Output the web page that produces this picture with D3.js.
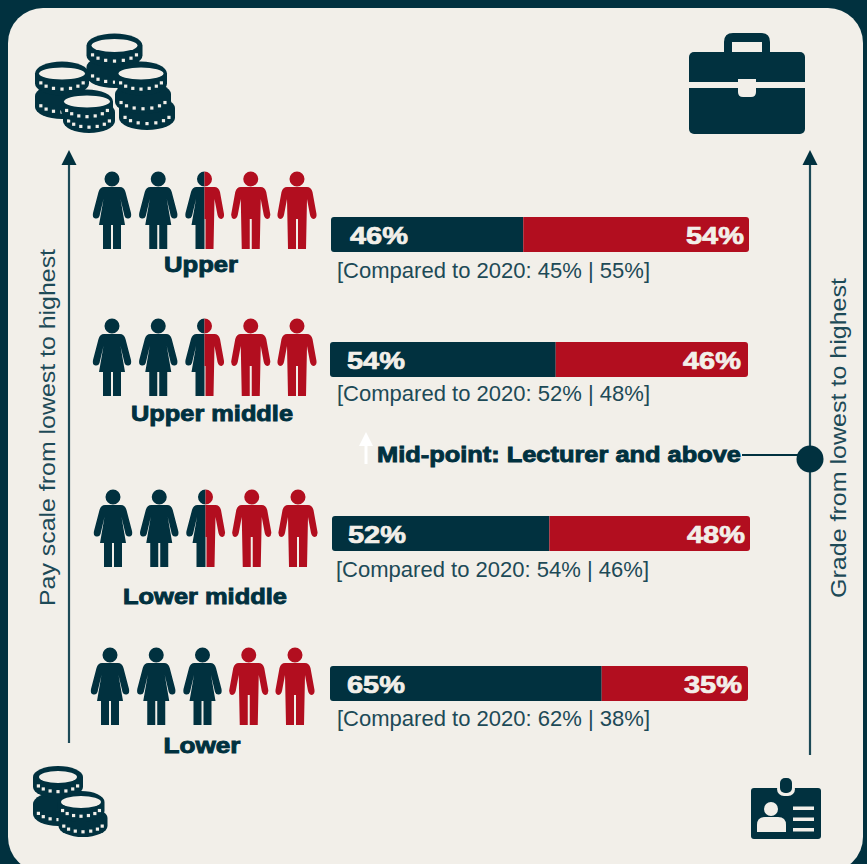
<!DOCTYPE html>
<html>
<head>
<meta charset="utf-8">
<script src="https://cdn.jsdelivr.net/npm/d3@7/dist/d3.min.js"></script>
<style>
html,body{margin:0;padding:0;background:#01313f;overflow:hidden}
svg{display:block}
text{font-family:"Liberation Sans",Arial,sans-serif}
</style>
</head>
<body>
<svg id="chart" width="867" height="864"></svg>
<script>
// Pay quartile figures, top of the pay scale first
const categories = ["Upper", "Upper middle", "Lower middle", "Lower"];
const womenShare = [46, 54, 52, 65];
const menShare = [54, 46, 48, 35];
const womenShare2020 = [45, 52, 54, 62];
const menShare2020 = [55, 48, 46, 38];
const womenFigures = [2, 2, 2, 3];
const splitFigures = [1, 1, 1, 0];
const menFigures = [2, 2, 2, 2];

const NAVY = "#01313f", RED = "#b20e1f", PAPER = "#f2efe9", AXIS = "#1d4a57";

// Row placement on the sheet
const barLeft = d3.scaleOrdinal(categories, [331, 330, 332, 330]);
const barTop = d3.scaleOrdinal(categories, [217, 342, 516, 666]);
const barHeight = 35, barWidth = 418;
const womenValueX = d3.scaleOrdinal(categories, [350, 347, 348, 347]);
const menValueEnd = d3.scaleOrdinal(categories, [744, 741, 745, 742]);
const figureLeft = d3.scaleOrdinal(categories, [112, 112, 113, 110]);
const figureTop = d3.scaleOrdinal(categories, [172, 319, 490, 648]);
const labelX = d3.scaleOrdinal(categories, [201, 212, 205, 202]);
const labelY = d3.scaleOrdinal(categories, [272, 421, 604, 753]);
const compareX = d3.scaleOrdinal(categories, [337, 337, 336, 337]);
const compareY = d3.scaleOrdinal(categories, [278, 401, 577, 726]);
const labelWidth = d3.scaleOrdinal(categories, [74, 162, 164, 77]);

const svg = d3.select("#chart");

svg.append("rect").attr("x", 8).attr("y", 8).attr("width", 855).attr("height", 864)
  .attr("rx", 35).attr("fill", PAPER);

// Half-figure outlines; side is -1 for the left half, +1 for the right
const n = (s, v) => s * v;
const womanHalf = (s, gap = 1) => `M0,15L${n(s,8)},15Q${n(s,12)},15 ${n(s,13.5)},20L${n(s,19)},41Q${n(s,20)},46 ${n(s,16.5)},46.5Q${n(s,13.5)},47 ${n(s,12.5)},44L${n(s,8.5)},27L${n(s,13)},53L${n(s,9)},53L${n(s,9)},77L${n(s,gap)},77L${n(s,gap)},53L0,53Z`;
const manHalf = s => `M0,15L${n(s,10)},15Q${n(s,14)},15 ${n(s,15.5)},20L${n(s,19.5)},42Q${n(s,20)},46 ${n(s,17)},47Q${n(s,14)},47 ${n(s,13)},43L${n(s,10)},27L${n(s,9)},77L${n(s,1)},77L${n(s,1)},47L0,47Z`;
const headHalf = s => `M0,-0.5A7.5,7.5 0 0 ${s > 0 ? 1 : 0} 0,14.5Z`;
const wholeHead = "M0,-0.5A7.5,7.5 0 1 1 0,14.5A7.5,7.5 0 1 1 0,-0.5Z";

const figureGroups = svg.selectAll("g.row-figures").data(categories).join("g")
  .attr("class", "row-figures");

figureGroups.each(function (cat, i) {
  const kinds = [
    ...d3.range(womenFigures[i]).map(() => "woman"),
    ...d3.range(splitFigures[i]).map(() => "split"),
    ...d3.range(menFigures[i]).map(() => "man")
  ];
  const x = d3.scalePoint(d3.range(kinds.length), [figureLeft(cat), figureLeft(cat) + 185]);
  const g = d3.select(this).selectAll("g").data(kinds).join("g")
    .attr("transform", (d, k) => `translate(${x(k)},${figureTop(cat)})`);
  g.each(function (kind) {
    const parts = kind === "woman"
      ? [[womanHalf(-1) + womanHalf(1) + wholeHead, NAVY]]
      : kind === "man"
      ? [[manHalf(-1) + manHalf(1) + wholeHead, RED]]
      : [[womanHalf(-1, 0) + headHalf(-1), NAVY], [manHalf(1) + headHalf(1), RED]];
    d3.select(this).selectAll("path").data(parts).join("path")
      .attr("d", d => d[0]).attr("fill", d => d[1]);
  });
});

// Quartile names beneath the figures
svg.selectAll("text.row-label").data(categories).join("text")
  .attr("class", "row-label")
  .attr("x", labelX).attr("y", labelY)
  .attr("text-anchor", "middle")
  .attr("font-size", 22).attr("font-weight", 700)
  .attr("fill", NAVY).attr("stroke", NAVY).attr("stroke-width", 0.9)
  .attr("textLength", labelWidth).attr("lengthAdjust", "spacingAndGlyphs")
  .text(d => d);

// Stacked share bars
const rows = categories.map((cat, i) => ({ cat, women: womenShare[i], men: menShare[i], was: womenShare2020[i], wasMen: menShare2020[i] }));
const barScale = cat => d3.scaleLinear([0, 100], [barLeft(cat), barLeft(cat) + barWidth]);

const bars = svg.selectAll("g.bar").data(rows).join("g").attr("class", "bar");
bars.append("path").attr("fill", NAVY).attr("d", d => {
  const x = barScale(d.cat), y = barTop(d.cat), r = 3;
  const p = d3.path();
  p.moveTo(x(d.women), y); p.lineTo(x(0) + r, y);
  p.quadraticCurveTo(x(0), y, x(0), y + r);
  p.lineTo(x(0), y + barHeight - r);
  p.quadraticCurveTo(x(0), y + barHeight, x(0) + r, y + barHeight);
  p.lineTo(x(d.women), y + barHeight); p.closePath();
  return p.toString();
});
bars.append("path").attr("fill", RED).attr("d", d => {
  const x = barScale(d.cat), y = barTop(d.cat), r = 3;
  const end = x(d.women + d.men);
  const p = d3.path();
  p.moveTo(x(d.women), y); p.lineTo(end - r, y);
  p.quadraticCurveTo(end, y, end, y + r);
  p.lineTo(end, y + barHeight - r);
  p.quadraticCurveTo(end, y + barHeight, end - r, y + barHeight);
  p.lineTo(x(d.women), y + barHeight); p.closePath();
  return p.toString();
});
const valueStyle = sel => sel.attr("y", d => barTop(d.cat) + 27)
  .attr("font-size", 24).attr("font-weight", 700)
  .attr("fill", PAPER).attr("stroke", PAPER).attr("stroke-width", 0.7)
  .attr("textLength", 58).attr("lengthAdjust", "spacingAndGlyphs");
bars.append("text").call(valueStyle)
  .attr("x", d => womenValueX(d.cat))
  .text(d => `${d.women}%`);
bars.append("text").call(valueStyle)
  .attr("x", d => menValueEnd(d.cat) - 58)
  .text(d => `${d.men}%`);

// Comparison with the previous reporting year
svg.selectAll("text.compare").data(rows).join("text")
  .attr("class", "compare")
  .attr("x", d => compareX(d.cat)).attr("y", d => compareY(d.cat))
  .attr("font-size", 22).attr("fill", AXIS)
  .attr("textLength", 313).attr("lengthAdjust", "spacingAndGlyphs")
  .text(d => `[Compared to 2020: ${d.was}% | ${d.wasMen}%]`);

// Vertical axes with arrowheads
function verticalArrow(x, yBottom) {
  svg.append("line").attr("x1", x).attr("x2", x).attr("y1", yBottom).attr("y2", 160)
    .attr("stroke", AXIS).attr("stroke-width", 2.2);
  svg.append("path").attr("d", `M${x},150L${x + 7.5},165L${x - 7.5},165Z`).attr("fill", NAVY);
}
verticalArrow(69, 743);
verticalArrow(810, 755);

const rotated = (x, y, len, str) => svg.append("text")
  .attr("transform", `translate(${x},${y}) rotate(-90)`)
  .attr("font-size", 22).attr("fill", AXIS)
  .attr("textLength", len).attr("lengthAdjust", "spacingAndGlyphs").text(str);
rotated(55, 606, 357, "Pay scale from lowest to highest");
rotated(846, 598, 320, "Grade from lowest to highest");

// Mid-point marker
svg.append("line").attr("x1", 366).attr("x2", 366).attr("y1", 440).attr("y2", 464)
  .attr("stroke", "#fff").attr("stroke-width", 3);
svg.append("path").attr("d", "M366,432L373,446L359,446Z").attr("fill", "#fff");
svg.append("text").attr("x", 377).attr("y", 462)
  .attr("font-size", 22).attr("font-weight", 700)
  .attr("fill", NAVY).attr("stroke", NAVY).attr("stroke-width", 0.9)
  .attr("textLength", 364).attr("lengthAdjust", "spacingAndGlyphs")
  .text("Mid-point: Lecturer and above");
svg.append("line").attr("x1", 742).attr("x2", 805).attr("y1", 455).attr("y2", 455)
  .attr("stroke", NAVY).attr("stroke-width", 2);
svg.append("circle").attr("cx", 810).attr("cy", 459).attr("r", 13.5).attr("fill", NAVY);

// A single coin: dark rim and edge, pale face, a row of milled dots along the edge
function coin(g, cx, cy, rx, ry, depth, faceRx, faceRy, showFace) {
  const c = g.append("g");
  c.append("path").attr("fill", NAVY)
    .attr("d", `M${cx - rx},${cy}A${rx},${ry} 0 0 1 ${cx + rx},${cy}L${cx + rx},${cy + depth}A${rx},${ry} 0 0 1 ${cx - rx},${cy + depth}Z`);
  if (showFace) {
    c.append("ellipse").attr("cx", cx).attr("cy", cy).attr("rx", faceRx).attr("ry", faceRy).attr("fill", PAPER);
  }
  const angles = d3.range(-63, 64, 21).map(a => a * Math.PI / 180);
  c.selectAll("rect").data(angles).join("rect")
    .attr("x", a => cx + Math.sin(a) * rx * 0.88 - 1.6)
    .attr("y", a => cy + depth * 0.42 + Math.cos(a) * ry * 0.95 - 1.6)
    .attr("width", 3.2).attr("height", 3.2).attr("fill", PAPER);
}

const bigCoins = svg.append("g");
coin(bigCoins, 114.5, 67, 28, 12, 9, 23, 6, false);
coin(bigCoins, 114.5, 45.5, 28, 12, 10, 23, 6.5, true);
coin(bigCoins, 62, 96, 27, 12, 11, 23, 6, false);
coin(bigCoins, 62, 73.5, 27, 12, 10, 23, 6, true);
coin(bigCoins, 147, 108, 28, 12, 10, 23, 6, false);
coin(bigCoins, 143, 94, 28, 12, 8, 23, 6, false);
coin(bigCoins, 141, 73.5, 26, 12, 10, 22.5, 6, true);
coin(bigCoins, 89, 112, 26, 12, 9, 23, 6, false);
coin(bigCoins, 87, 101.5, 26, 12, 9, 23, 6, true);

const smallCoins = svg.append("g");
coin(smallCoins, 58, 804, 25, 12, 10, 19, 6, false);
coin(smallCoins, 58, 777, 25, 11, 10, 19, 6, true);
coin(smallCoins, 83, 818, 24.5, 11, 8, 20, 6, false);
coin(smallCoins, 81, 802, 23.5, 11, 9, 20, 6, true);

// Briefcase
const caseIcon = svg.append("g");
caseIcon.append("path").attr("fill", NAVY)
  .attr("d", "M724,56V42Q724,33 733,33H761Q770,33 770,42V56H762V42H732V56Z");
caseIcon.append("rect").attr("x", 689).attr("y", 52).attr("width", 116).attr("height", 82).attr("rx", 5).attr("fill", NAVY);
caseIcon.append("rect").attr("x", 689).attr("y", 82).attr("width", 116).attr("height", 6).attr("fill", PAPER);
caseIcon.append("path").attr("fill", PAPER).attr("d", "M738,79H756V92Q756,97 751,97H743Q738,97 738,92Z");

// Staff ID badge
const badge = svg.append("g");
badge.append("rect").attr("x", 751).attr("y", 788).attr("width", 70).attr("height", 51).attr("rx", 3).attr("fill", NAVY);
badge.append("rect").attr("x", 777).attr("y", 782).attr("width", 18).attr("height", 14).attr("rx", 7).attr("fill", PAPER);
badge.append("rect").attr("x", 780).attr("y", 778).attr("width", 12).attr("height", 15).attr("rx", 5).attr("fill", NAVY);
badge.append("circle").attr("cx", 771).attr("cy", 809).attr("r", 7).attr("fill", PAPER);
badge.append("path").attr("fill", PAPER).attr("d", "M757,832V825Q757,817 765,817H778Q786,817 786,825V832Z");
badge.selectAll("rect.line").data([806.5, 817.5, 828]).join("rect").attr("class", "line")
  .attr("x", 793).attr("y", d => d).attr("width", 21).attr("height", 3.5).attr("fill", PAPER);
</script>
</body>
</html>
